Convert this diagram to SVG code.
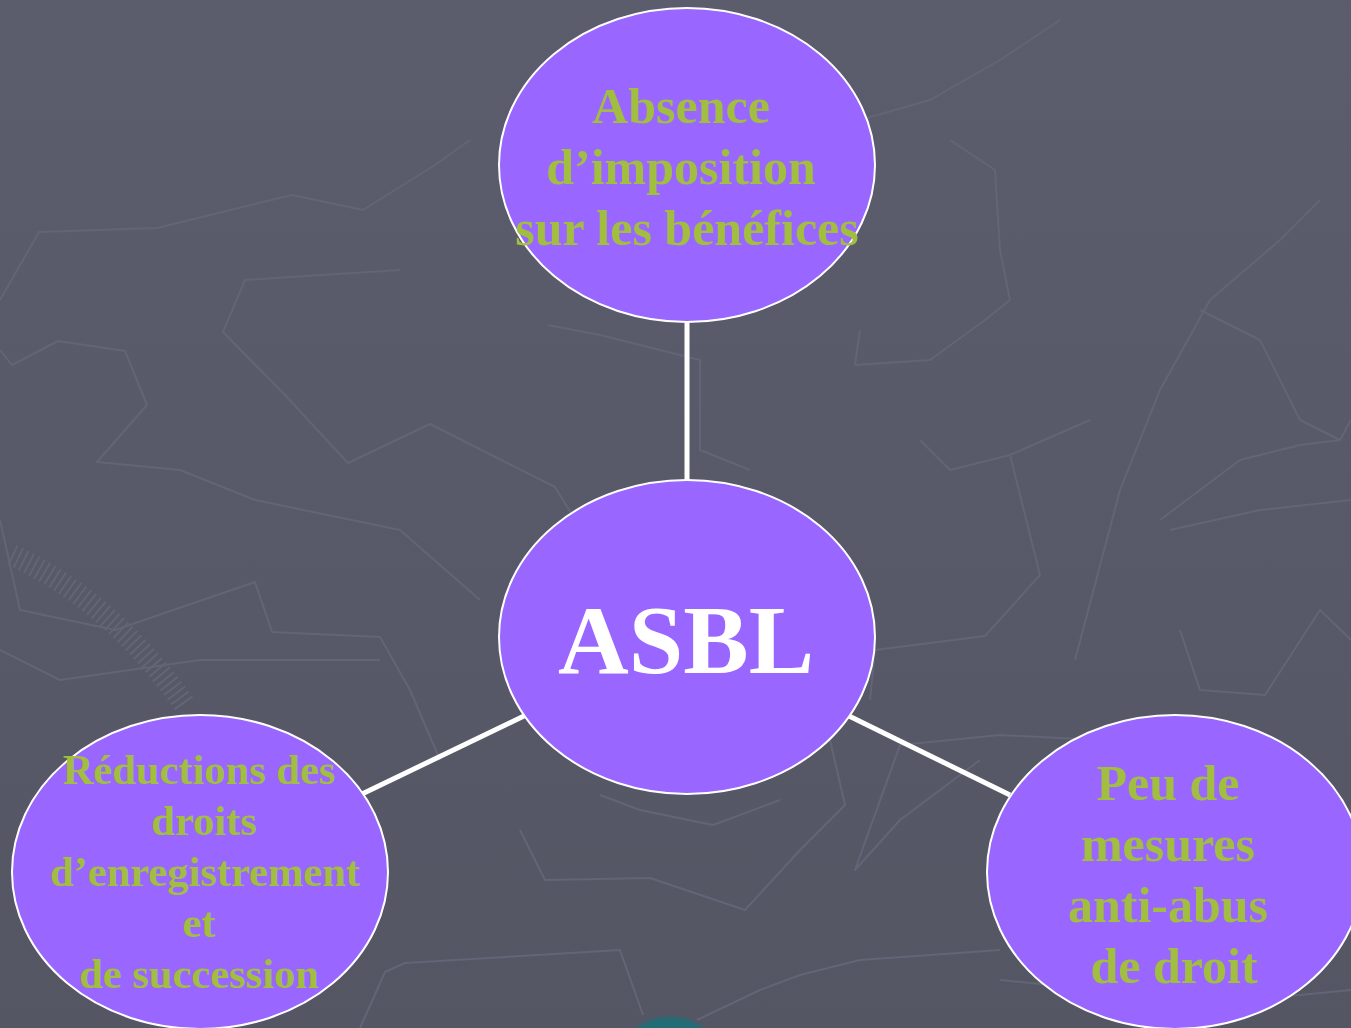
<svg xmlns="http://www.w3.org/2000/svg" width="1351" height="1028" viewBox="0 0 1351 1028">
<defs>
<linearGradient id="bg" x1="0" y1="0" x2="0" y2="1">
<stop offset="0" stop-color="#5B5D6D"/>
<stop offset="1" stop-color="#545664"/>
</linearGradient>
<filter id="blur"><feGaussianBlur stdDeviation="1.5"/></filter>
</defs>
<style>
.map{fill:none;stroke:#626576;stroke-width:2;stroke-linejoin:round}
.node{fill:#9966FF;stroke:#FFFFFF;stroke-width:2}
.lbl{font-family:"Liberation Serif","Times New Roman",serif;font-weight:bold;fill:#A1BE40;text-anchor:middle}
.conn{stroke:#FFFFFF;stroke-width:5;fill:none}
</style>
<rect width="1351" height="1028" fill="url(#bg)"/>
<g id="background-map">
<polyline class="map" points="0,300 39,232 157,228 292,195 363,210 435,165 470,140"/>
<polyline class="map" points="400,270 290,277 245,280 223,332 285,395 348,463 430,424 555,487 600,560"/>
<polyline class="map" points="0,350 12,365 58,341 125,351 147,405 97,462 180,470 255,500 400,530 480,600"/>
<polyline class="map" points="0,520 20,610 115,630 255,582 272,632 380,637 410,690 440,760"/>
<polyline class="map" points="0,650 60,680 200,660 380,660"/>
<polyline class="map" points="548,325 600,335 700,360 700,450 750,470"/>
<polyline class="map" points="860,330 855,365 930,360 985,320 1010,300 1000,250 995,170 950,140"/>
<polyline class="map" points="1010,455 1040,575 985,636 875,650 870,700"/>
<polyline class="map" points="1075,660 1120,490 1160,390 1210,300 1280,240 1320,200"/>
<polyline class="map" points="1090,420 1010,455 950,470 920,440"/>
<polyline class="map" points="1160,520 1240,460 1300,445 1340,440 1351,420"/>
<polyline class="map" points="1200,310 1260,340 1300,420 1340,440"/>
<polyline class="map" points="1180,630 1200,690 1265,695 1320,610 1351,640"/>
<polyline class="map" points="1100,740 1000,735 900,745 855,870 900,820 980,760"/>
<polyline class="map" points="520,830 545,880 650,878 745,910 800,850 845,805 830,740"/>
<polyline class="map" points="600,795 640,810 713,825 780,800"/>
<polyline class="map" points="360,1028 385,972 405,963 620,950 643,1015"/>
<polyline class="map" points="697,1020 760,990 800,975 860,960 1000,950"/>
<polyline class="map" points="1000,980 1100,990 1200,1000 1300,995 1351,990"/>
<polyline class="map" points="1170,530 1260,510 1351,500"/>
<polyline class="map" points="860,120 930,100 1000,60 1060,20"/>
<path d="M12,555 Q110,600 185,705" fill="none" stroke="#626576" stroke-width="22" stroke-dasharray="2,4"/>
</g>
<ellipse cx="670" cy="1048" rx="44" ry="31" fill="#226C75" filter="url(#blur)"/>
<g id="connectors">
<line class="conn" x1="687" y1="322" x2="687" y2="481"/>
<line class="conn" x1="524" y1="716" x2="362" y2="794"/>
<line class="conn" x1="849" y1="716" x2="1010" y2="795"/>
</g>
<g id="node-top">
<ellipse class="node" cx="687" cy="165" rx="188" ry="157"/>
<text class="lbl" font-size="50"><tspan x="681" y="123">Absence</tspan><tspan x="681" y="184">d’imposition</tspan><tspan x="687" y="245">sur les bénéfices</tspan></text>
</g>
<g id="node-center">
<ellipse class="node" cx="687" cy="637" rx="188" ry="157"/>
<text x="686" y="673" font-family="Liberation Serif, Times New Roman, serif" font-weight="bold" font-size="98" fill="#FFFFFF" text-anchor="middle">ASBL</text>
</g>
<g id="node-left">
<ellipse class="node" cx="200" cy="872" rx="188" ry="157"/>
<text class="lbl" font-size="42.5"><tspan x="199" y="784">Réductions des</tspan><tspan x="204" y="835">droits</tspan><tspan x="205" y="886">d’enregistrement</tspan><tspan x="199" y="937">et</tspan><tspan x="199" y="988">de succession</tspan></text>
</g>
<g id="node-right">
<ellipse class="node" cx="1175" cy="872" rx="188" ry="157"/>
<text class="lbl" font-size="50"><tspan x="1168" y="800">Peu de</tspan><tspan x="1168" y="861">mesures</tspan><tspan x="1168" y="922">anti-abus</tspan><tspan x="1174" y="983">de droit</tspan></text>
</g>
</svg>
